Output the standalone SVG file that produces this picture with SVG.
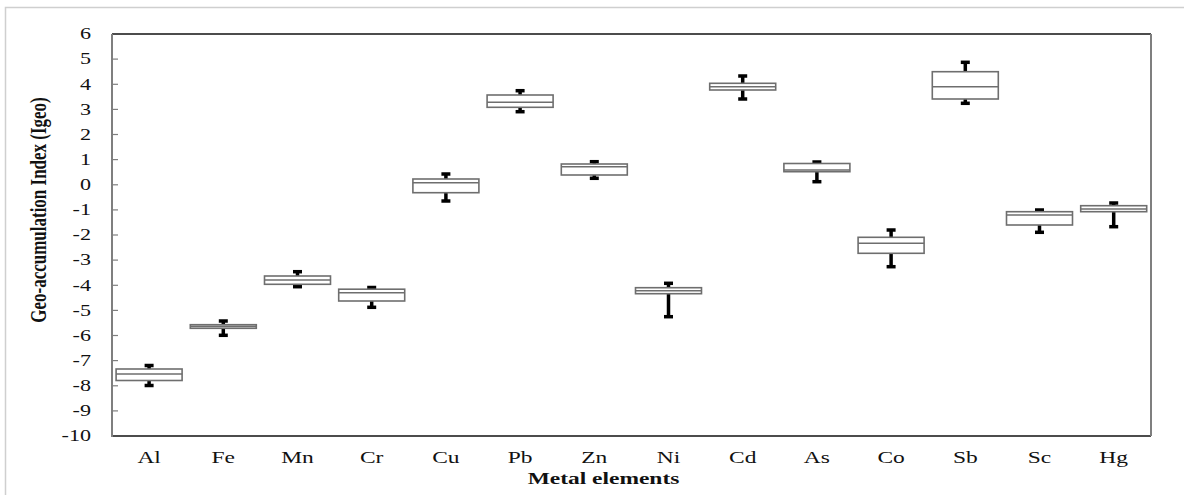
<svg xmlns="http://www.w3.org/2000/svg" width="1184" height="495" viewBox="0 0 1184 495">
<style>
.frame{fill:none;stroke:#cfcfcf;stroke-width:1.5}
.axg{stroke:#7f7f7f;stroke-width:2;fill:none}
.axk{stroke:#111;stroke-width:1.5;fill:none}
.tick{stroke:#7f7f7f;stroke-width:1.2}
.tl{font-family:"Liberation Serif","Times New Roman",serif;font-size:16px;fill:#111;text-anchor:end}
.xl{font-family:"Liberation Serif","Times New Roman",serif;font-size:17px;fill:#111;text-anchor:middle}
.title{font-family:"Liberation Serif","Times New Roman",serif;font-size:17px;font-weight:bold;fill:#111;text-anchor:middle}
.box{fill:#fff;stroke:#6e6e6e;stroke-width:1.6}
.med{stroke:#6e6e6e;stroke-width:1.6}
.wh{stroke:#000;stroke-width:3.5}
.cap{stroke:#000;stroke-width:3.5}
</style>
<rect width="1184" height="495" fill="#fff"/>
<path class="frame" d="M5.5,497 V7.5 H1190"/>
<g id="axes">
<line class="axk" x1="112" y1="34" x2="1151" y2="34"/>
<line class="axk" x1="112" y1="436" x2="1151" y2="436"/>
<line class="axg" x1="1151" y1="34" x2="1151" y2="436"/>
<line class="axg" x1="112" y1="34" x2="112" y2="437"/>
<g id="ticks">
<line class="tick" x1="112" y1="59.1" x2="118" y2="59.1"/>
<line class="tick" x1="112" y1="84.3" x2="118" y2="84.3"/>
<line class="tick" x1="112" y1="109.4" x2="118" y2="109.4"/>
<line class="tick" x1="112" y1="134.5" x2="118" y2="134.5"/>
<line class="tick" x1="112" y1="159.6" x2="118" y2="159.6"/>
<line class="tick" x1="112" y1="184.8" x2="118" y2="184.8"/>
<line class="tick" x1="112" y1="209.9" x2="118" y2="209.9"/>
<line class="tick" x1="112" y1="235" x2="118" y2="235"/>
<line class="tick" x1="112" y1="260.1" x2="118" y2="260.1"/>
<line class="tick" x1="112" y1="285.3" x2="118" y2="285.3"/>
<line class="tick" x1="112" y1="310.4" x2="118" y2="310.4"/>
<line class="tick" x1="112" y1="335.5" x2="118" y2="335.5"/>
<line class="tick" x1="112" y1="360.6" x2="118" y2="360.6"/>
<line class="tick" x1="112" y1="385.8" x2="118" y2="385.8"/>
<line class="tick" x1="112" y1="410.9" x2="118" y2="410.9"/>
</g>
<g id="ylabels">
<text class="tl" transform="translate(91,39.3) scale(1.38,1)">6</text>
<text class="tl" transform="translate(91,64.4) scale(1.38,1)">5</text>
<text class="tl" transform="translate(91,89.5) scale(1.38,1)">4</text>
<text class="tl" transform="translate(91,114.7) scale(1.38,1)">3</text>
<text class="tl" transform="translate(91,139.8) scale(1.38,1)">2</text>
<text class="tl" transform="translate(91,164.9) scale(1.38,1)">1</text>
<text class="tl" transform="translate(91,190) scale(1.38,1)">0</text>
<text class="tl" transform="translate(91,215.2) scale(1.38,1)">-1</text>
<text class="tl" transform="translate(91,240.3) scale(1.38,1)">-2</text>
<text class="tl" transform="translate(91,265.4) scale(1.38,1)">-3</text>
<text class="tl" transform="translate(91,290.5) scale(1.38,1)">-4</text>
<text class="tl" transform="translate(91,315.7) scale(1.38,1)">-5</text>
<text class="tl" transform="translate(91,340.8) scale(1.38,1)">-6</text>
<text class="tl" transform="translate(91,365.9) scale(1.38,1)">-7</text>
<text class="tl" transform="translate(91,391) scale(1.38,1)">-8</text>
<text class="tl" transform="translate(91,416.2) scale(1.38,1)">-9</text>
<text class="tl" transform="translate(91,441.3) scale(1.38,1)">-10</text>
</g>
<text id="ytitle" class="title" transform="translate(46,210) scale(1.38,1) rotate(-90)">Geo-accumulation Index (Igeo)</text>
<g id="xlabels">
<text class="xl" transform="translate(149.1,463) scale(1.38,1)">Al</text>
<text class="xl" transform="translate(223.3,463) scale(1.38,1)">Fe</text>
<text class="xl" transform="translate(297.5,463) scale(1.38,1)">Mn</text>
<text class="xl" transform="translate(371.7,463) scale(1.38,1)">Cr</text>
<text class="xl" transform="translate(445.9,463) scale(1.38,1)">Cu</text>
<text class="xl" transform="translate(520.1,463) scale(1.38,1)">Pb</text>
<text class="xl" transform="translate(594.3,463) scale(1.38,1)">Zn</text>
<text class="xl" transform="translate(668.5,463) scale(1.38,1)">Ni</text>
<text class="xl" transform="translate(742.7,463) scale(1.38,1)">Cd</text>
<text class="xl" transform="translate(816.9,463) scale(1.38,1)">As</text>
<text class="xl" transform="translate(891.1,463) scale(1.38,1)">Co</text>
<text class="xl" transform="translate(965.3,463) scale(1.38,1)">Sb</text>
<text class="xl" transform="translate(1039.5,463) scale(1.38,1)">Sc</text>
<text class="xl" transform="translate(1113.7,463) scale(1.38,1)">Hg</text>
</g>
<text id="xtitle" class="title" transform="translate(603.5,484) scale(1.38,1)">Metal elements</text>
</g>
<g id="connectors"></g>
<g id="box-Al">
<line class="wh" x1="149.1" y1="369" x2="149.1" y2="365.5"/><line class="wh" x1="149.1" y1="380.5" x2="149.1" y2="385.5"/>
<line class="cap" x1="144.6" y1="365.5" x2="153.6" y2="365.5"/><line class="cap" x1="144.6" y1="385.5" x2="153.6" y2="385.5"/>
<rect class="box" x="116.1" y="369" width="66" height="11.5"/><line class="med" x1="116.1" y1="374" x2="182.1" y2="374"/>
</g>
<g id="box-Fe">
<line class="wh" x1="223.3" y1="324.7" x2="223.3" y2="321"/><line class="wh" x1="223.3" y1="328.3" x2="223.3" y2="335.3"/>
<line class="cap" x1="218.8" y1="321" x2="227.8" y2="321"/><line class="cap" x1="218.8" y1="335.3" x2="227.8" y2="335.3"/>
<rect class="box" x="190.3" y="324.7" width="66" height="3.6"/><line class="med" x1="190.3" y1="326.4" x2="256.3" y2="326.4"/>
</g>
<g id="box-Mn">
<line class="wh" x1="297.5" y1="276" x2="297.5" y2="271.7"/><line class="wh" x1="297.5" y1="284.3" x2="297.5" y2="286.7"/>
<line class="cap" x1="293" y1="271.7" x2="302" y2="271.7"/><line class="cap" x1="293" y1="286.7" x2="302" y2="286.7"/>
<rect class="box" x="264.5" y="276" width="66" height="8.3"/><line class="med" x1="264.5" y1="280" x2="330.5" y2="280"/>
</g>
<g id="box-Cr">
<line class="cap" x1="367.2" y1="287.5" x2="376.2" y2="287.5"/>
<line class="wh" x1="371.7" y1="301" x2="371.7" y2="307.3"/>
<line class="cap" x1="367.2" y1="307.3" x2="376.2" y2="307.3"/>
<rect class="box" x="338.7" y="289.2" width="66" height="11.8"/><line class="med" x1="338.7" y1="292.7" x2="404.7" y2="292.7"/>
</g>
<g id="box-Cu">
<line class="wh" x1="445.9" y1="179" x2="445.9" y2="174"/><line class="wh" x1="445.9" y1="192.7" x2="445.9" y2="201"/>
<line class="cap" x1="441.4" y1="174" x2="450.4" y2="174"/><line class="cap" x1="441.4" y1="201" x2="450.4" y2="201"/>
<rect class="box" x="412.9" y="179" width="66" height="13.7"/><line class="med" x1="412.9" y1="182.7" x2="478.9" y2="182.7"/>
</g>
<g id="box-Pb">
<line class="wh" x1="520.1" y1="95" x2="520.1" y2="90.7"/><line class="wh" x1="520.1" y1="107.3" x2="520.1" y2="111.7"/>
<line class="cap" x1="515.6" y1="90.7" x2="524.6" y2="90.7"/><line class="cap" x1="515.6" y1="111.7" x2="524.6" y2="111.7"/>
<rect class="box" x="487.1" y="95" width="66" height="12.3"/><line class="med" x1="487.1" y1="102.3" x2="553.1" y2="102.3"/>
</g>
<g id="box-Zn">
<line class="wh" x1="594.3" y1="164" x2="594.3" y2="161.7"/><line class="wh" x1="594.3" y1="175" x2="594.3" y2="178.3"/>
<line class="cap" x1="589.8" y1="161.7" x2="598.8" y2="161.7"/><line class="cap" x1="589.8" y1="178.3" x2="598.8" y2="178.3"/>
<rect class="box" x="561.3" y="164" width="66" height="11"/><line class="med" x1="561.3" y1="166.7" x2="627.3" y2="166.7"/>
</g>
<g id="box-Ni">
<line class="wh" x1="668.5" y1="287.7" x2="668.5" y2="283.3"/><line class="wh" x1="668.5" y1="293.7" x2="668.5" y2="316.7"/>
<line class="cap" x1="664" y1="283.3" x2="673" y2="283.3"/><line class="cap" x1="664" y1="316.7" x2="673" y2="316.7"/>
<rect class="box" x="635.5" y="287.7" width="66" height="6"/><line class="med" x1="635.5" y1="290.7" x2="701.5" y2="290.7"/>
</g>
<g id="box-Cd">
<line class="wh" x1="742.7" y1="83.3" x2="742.7" y2="76"/><line class="wh" x1="742.7" y1="90" x2="742.7" y2="99"/>
<line class="cap" x1="738.2" y1="76" x2="747.2" y2="76"/><line class="cap" x1="738.2" y1="99" x2="747.2" y2="99"/>
<rect class="box" x="709.7" y="83.3" width="66" height="6.7"/><line class="med" x1="709.7" y1="86.7" x2="775.7" y2="86.7"/>
</g>
<g id="box-As">
<line class="cap" x1="812.4" y1="162" x2="821.4" y2="162"/>
<line class="wh" x1="816.9" y1="171.7" x2="816.9" y2="181.7"/>
<line class="cap" x1="812.4" y1="181.7" x2="821.4" y2="181.7"/>
<rect class="box" x="783.9" y="163.5" width="66" height="8.2"/><line class="med" x1="783.9" y1="170" x2="849.9" y2="170"/>
</g>
<g id="box-Co">
<line class="wh" x1="891.1" y1="237.3" x2="891.1" y2="230"/><line class="wh" x1="891.1" y1="253.3" x2="891.1" y2="266.7"/>
<line class="cap" x1="886.6" y1="230" x2="895.6" y2="230"/><line class="cap" x1="886.6" y1="266.7" x2="895.6" y2="266.7"/>
<rect class="box" x="858.1" y="237.3" width="66" height="16"/><line class="med" x1="858.1" y1="243.3" x2="924.1" y2="243.3"/>
</g>
<g id="box-Sb">
<line class="wh" x1="965.3" y1="71.7" x2="965.3" y2="62.3"/><line class="wh" x1="965.3" y1="99" x2="965.3" y2="103.3"/>
<line class="cap" x1="960.8" y1="62.3" x2="969.8" y2="62.3"/><line class="cap" x1="960.8" y1="103.3" x2="969.8" y2="103.3"/>
<rect class="box" x="932.3" y="71.7" width="66" height="27.3"/><line class="med" x1="932.3" y1="86.7" x2="998.3" y2="86.7"/>
</g>
<g id="box-Sc">
<line class="cap" x1="1035" y1="210" x2="1044" y2="210"/>
<line class="wh" x1="1039.5" y1="225" x2="1039.5" y2="232.3"/>
<line class="cap" x1="1035" y1="232.3" x2="1044" y2="232.3"/>
<rect class="box" x="1006.5" y="211.7" width="66" height="13.3"/><line class="med" x1="1006.5" y1="215" x2="1072.5" y2="215"/>
</g>
<g id="box-Hg">
<line class="wh" x1="1113.7" y1="205.7" x2="1113.7" y2="203"/><line class="wh" x1="1113.7" y1="211.7" x2="1113.7" y2="226.7"/>
<line class="cap" x1="1109.2" y1="203" x2="1118.2" y2="203"/><line class="cap" x1="1109.2" y1="226.7" x2="1118.2" y2="226.7"/>
<rect class="box" x="1080.7" y="205.7" width="66" height="6"/><line class="med" x1="1080.7" y1="209" x2="1146.7" y2="209"/>
</g>
</svg>
